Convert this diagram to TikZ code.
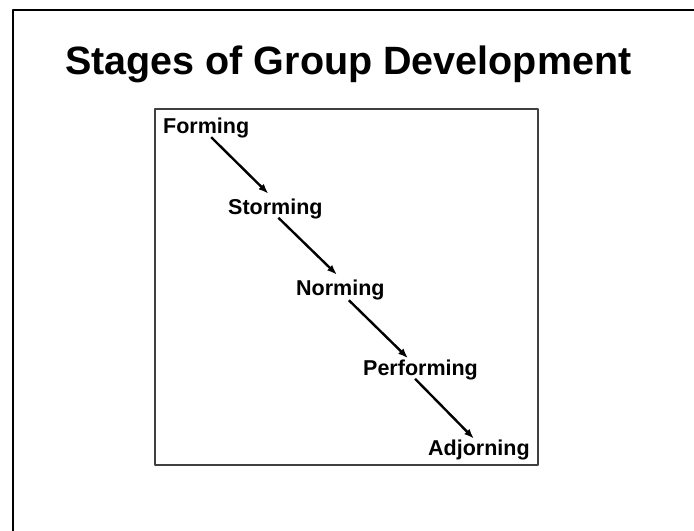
\documentclass[tikz,border=0pt]{standalone}
\usepackage{fontspec}
\setmainfont{Liberation Sans}
\usepackage{tikz}
\usetikzlibrary{arrows,arrows.meta}

\begin{document}
\begin{tikzpicture}[>={Latex[length=10bp,width=7.5bp]},line join=bevel,]
%%
\useasboundingbox (0.0bp,0.0bp) rectangle (694.0bp,531.0bp);
\clip (0.0bp,0.0bp) rectangle (694.0bp,531.0bp);
\tikzset{stage/.style={inner sep=0pt,anchor=base west,font=\fontsize{21.5bp}{24bp}\selectfont\bfseries}}
%
\begin{scope}
  \definecolor{strokecol}{rgb}{0.0,0.0,0.0};
  \pgfsetstrokecolor{strokecol}
  \coordinate (fr0) at (13.0bp,-20.0bp);
  \coordinate (fr1) at (720.0bp,521.0bp);
  \draw [line width=2.2bp] (fr0) |- (fr1);
\end{scope}
\begin{scope}
  \definecolor{strokecol}{rgb}{0.25,0.25,0.25};
  \pgfsetstrokecolor{strokecol}
  \coordinate (bx0) at (155.0bp,66.0bp);
  \coordinate (bx1) at (538.0bp,422.0bp);
  \draw [line width=1.3bp] (bx0) rectangle (bx1);
\end{scope}
  \node (title) at (65.0bp,456.0bp) [inner sep=0pt,anchor=base west] {\fontsize{39.5bp}{44bp}\selectfont\bfseries Stages of Group Development};
  \node (s0) at (163.0bp,397.0bp) [stage] {Forming};
  \node (s1) at (228.0bp,316.0bp) [stage] {Storming};
  \node (s2) at (296.0bp,235.0bp) [stage] {Norming};
  \node (s3) at (363.0bp,155.0bp) [stage] {Performing};
  \node (s4) at (428.0bp,75.0bp) [stage] {Adjorning};
  \draw [->,line width=2.4bp] ([xshift=5bp,yshift=1.5bp]s0.south) -- ([xshift=-7bp,yshift=5.5bp]s1.north);
  \draw [->,line width=2.4bp] ([xshift=3bp,yshift=2bp]s1.south) -- ([xshift=-3.5bp,yshift=5.5bp]s2.north);
  \draw [->,line width=2.4bp] ([xshift=8.5bp,yshift=0.5bp]s2.south) -- ([xshift=-12.5bp,yshift=2bp]s3.north);
  \draw [->,line width=2.4bp] ([xshift=-5.5bp,yshift=2bp]s3.south) -- ([xshift=-5bp,yshift=1.5bp]s4.north);
%
\end{tikzpicture}
\end{document}
